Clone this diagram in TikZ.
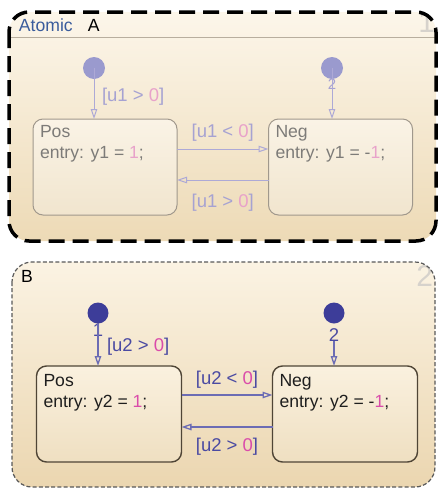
\documentclass[tikz,border=0pt]{standalone}
\usepackage{fontspec}
\setmainfont{Liberation Sans}
\usetikzlibrary{arrows.meta}
\definecolor{aTop}{HTML}{FCF6EA}
\definecolor{aBot}{HTML}{EDDAB6}
\definecolor{bTop}{HTML}{FBF3E3}
\definecolor{bBot}{HTML}{EBD6B0}
\definecolor{aStTop}{HTML}{FAF3E6}
\definecolor{aStBot}{HTML}{F1E5CE}
\definecolor{bStTop}{HTML}{FAF1DF}
\definecolor{bStBot}{HTML}{EFDFC1}
\definecolor{aBorder}{HTML}{A0988C}
\definecolor{bBorder}{HTML}{4F4536}
\definecolor{aText}{HTML}{7D7B78}
\definecolor{aPink}{HTML}{E8A2CA}
\definecolor{aLab}{HTML}{A6A2D2}
\definecolor{aLine}{HTML}{ADA9D6}
\definecolor{aDot}{HTML}{9A9ACE}
\definecolor{bText}{HTML}{1E1E1E}
\definecolor{bPink}{HTML}{DA4CAA}
\definecolor{bLab}{HTML}{4A4AA2}
\definecolor{bLine}{HTML}{6C6CB4}
\definecolor{bDot}{HTML}{3D3D99}
\definecolor{numGrey}{HTML}{D6D2CC}
\definecolor{atomicBlue}{HTML}{3A5C9C}
\definecolor{sepLine}{HTML}{B8AE9E}
\tikzset{
  panelA/.style={rectangle, rounded corners=20pt, top color=aTop, bottom color=aBot, minimum width=427pt, minimum height=229pt},
  panelB/.style={rectangle, rounded corners=20pt, top color=bTop, bottom color=bBot, minimum width=423pt, minimum height=225pt},
  borderA/.style={draw=black, line width=3.5pt, dash pattern=on 16pt off 8pt, rounded corners=20pt},
  borderB/.style={draw=black!65, line width=1.2pt, dash pattern=on 4pt off 2.2pt, rounded corners=20pt},
  stateA/.style={rectangle, draw=aBorder, line width=1pt, rounded corners=10pt, top color=aStTop, bottom color=aStBot, minimum width=144pt, minimum height=96pt},
  stateB/.style={rectangle, draw=bBorder, line width=1.4pt, rounded corners=10pt, top color=bStTop, bottom color=bStBot, minimum width=145pt, minimum height=96pt},
  dotA/.style={circle, fill=aDot, minimum size=22pt},
  dotB/.style={circle, fill=bDot, minimum size=21pt},
  trA/.style={draw=aLine, line width=1pt, -{Triangle[open, length=10pt, width=6.5pt]}},
  trB/.style={draw=bLine, line width=1.3pt, -{Triangle[open, length=10pt, width=6.5pt]}},
  labA/.style={text=aLab, font=\fontsize{18.5}{20}\selectfont},
  labB/.style={text=bLab, font=\fontsize{18.5}{20}\selectfont},
  txtA/.style={anchor=base west, text=aText},
  txtB/.style={anchor=base west, text=bText},
  bignum/.style={text=numGrey, font=\fontsize{30}{30}\selectfont, anchor=north east},
}
\begin{document}
\begin{tikzpicture}[x=1pt,y=-1pt, every node/.style={inner sep=0pt, outer sep=0pt}, font=\fontsize{17.6}{20}\selectfont]
\useasboundingbox (0,0) rectangle (438,491);

% ---------- Panel A ----------
\node[panelA] (A) at (222.5,126.5) {};
\begin{scope}
  \clip[rounded corners=20pt] (A.north west) rectangle (A.south east);
  \node[bignum] (numA) at (435,12) {1};
\end{scope}
\draw[sepLine, line width=0.8pt] ([yshift=-25pt]A.north west) -- ([yshift=-25pt]A.north east);
\draw[borderA] (A.north west) rectangle (A.south east);
\node[anchor=base west, text=atomicBlue] (atomic) at (19,31) {Atomic};
\node[anchor=base west, text=black] (titleA) at (88,31) {A};

\node[stateA] (posA) at (105,167) {};
\node[stateA] (negA) at (340.5,167) {};
\node[txtA] (posAn) at ([shift={(7,18)}]posA.north west) {Pos};
\node[txtA] (posAe) at ([shift={(7,39)}]posA.north west) {entry: y1 = \textcolor{aPink}{1};};
\node[txtA] (negAn) at ([shift={(7,18)}]negA.north west) {Neg};
\node[txtA] (negAe) at ([shift={(7,39)}]negA.north west) {entry: y1 = -\textcolor{aPink}{1};};

\node[dotA] (dA1) at (94,68) {};
\node[dotA] (dA2) at (332,68) {};
\node[labA, font=\fontsize{15}{15}\selectfont] (nA2) at (332,84) {2};
\draw[trA] (dA1.center) -- (dA1.center |- posA.north)
  node[labA, pos=0.57, anchor=west, xshift=8pt] (lA0) {[u1 > \textcolor{aPink}{0}]};
\draw[trA] (dA2.center) -- (dA2.center |- negA.north);
\draw[trA] ([yshift=18pt]posA.east) -- ([yshift=18pt]negA.west)
  node[labA, midway, yshift=16pt] (lA1) {[u1 < \textcolor{aPink}{0}]};
\draw[trA] ([yshift=-13pt]negA.west) -- ([yshift=-13pt]posA.east)
  node[labA, midway, yshift=-23pt] (lA2) {[u1 > \textcolor{aPink}{0}]};

% ---------- Panel B ----------
\node[panelB] (B) at (223.5,374.5) {};
\begin{scope}
  \clip[rounded corners=20pt] (B.north west) rectangle (B.south east);
  \node[bignum] (numB) at (433,266) {2};
\end{scope}
\draw[borderB] (B.north west) rectangle (B.south east);
\node[anchor=base west, text=black] (titleB) at (21,282) {B};

\node[stateB] (posB) at (109,414) {};
\node[stateB] (negB) at (345,414) {};
\node[txtB] (posBn) at ([shift={(7,20)}]posB.north west) {Pos};
\node[txtB] (posBe) at ([shift={(7,41)}]posB.north west) {entry: y2 = \textcolor{bPink}{1};};
\node[txtB] (negBn) at ([shift={(7,20)}]negB.north west) {Neg};
\node[txtB] (negBe) at ([shift={(7,41)}]negB.north west) {entry: y2 = -\textcolor{bPink}{1};};

\node[dotB] (dB1) at (98,313) {};
\node[dotB] (dB2) at (334,313) {};
\node[labB] (nB1) at (98,330) {1};
\node[labB] (nB2) at (334,335) {2};
\draw[trB] (dB1.south) -- (dB1.center |- posB.north)
  node[labB, pos=0.55, anchor=west, xshift=9pt] (lB0) {[u2 > \textcolor{bPink}{0}]};
\draw[trB] (nB2.south) -- (dB2.center |- negB.north);
\draw[trB] ([yshift=19pt]posB.east) -- ([yshift=19pt]negB.west)
  node[labB, midway, yshift=15pt] (lB1) {[u2 < \textcolor{bPink}{0}]};
\draw[trB] ([yshift=-13pt]negB.west) -- ([yshift=-13pt]posB.east)
  node[labB, midway, yshift=-20pt] (lB2) {[u2 > \textcolor{bPink}{0}]};
\end{tikzpicture}
\end{document}
